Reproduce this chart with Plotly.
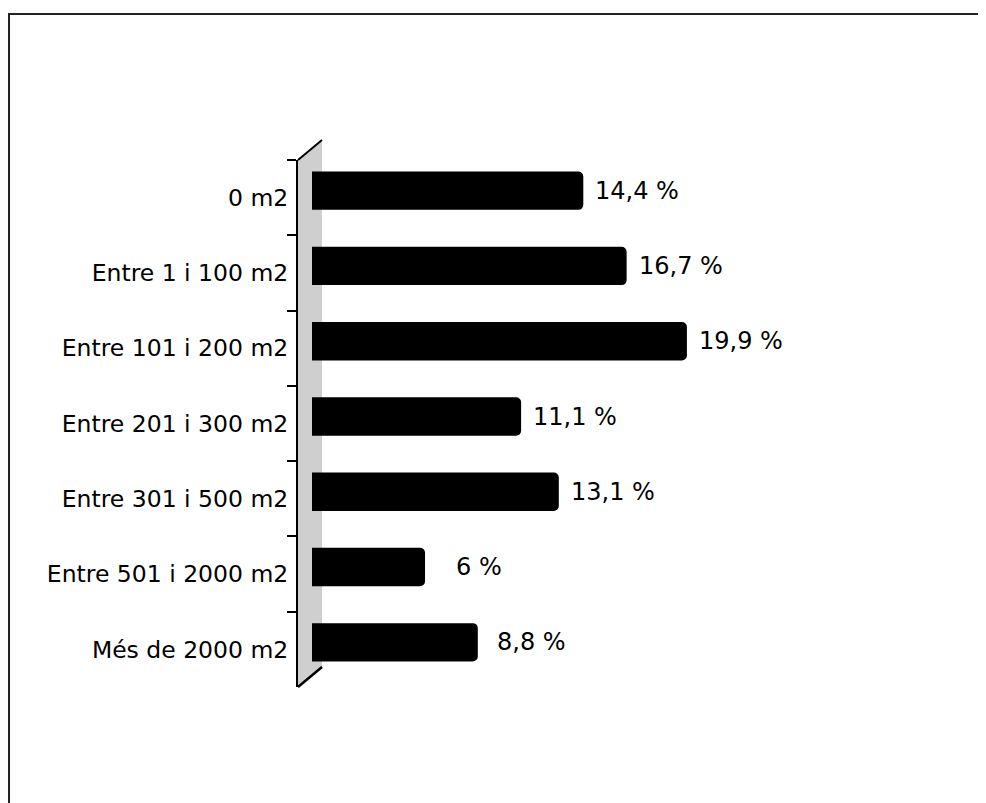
import plotly.graph_objects as go

categories = ["0 m2", "Entre 1 i 100 m2", "Entre 101 i 200 m2", "Entre 201 i 300 m2",
              "Entre 301 i 500 m2", "Entre 501 i 2000 m2", "Més de 2000 m2"]
values = [14.4, 16.7, 19.9, 11.1, 13.1, 6.0, 8.8]
value_labels = [f"{v:g}".replace(".", ",") + " %" for v in values]

W, H = 986, 803
OFF = 8  # page body margin
L, R, T, B = 298 - OFF, 900 - OFF, 160 - OFF, 687 - OFF  # plot area in figure pixels


def px(x):
    return (x - OFF - L) / (R - L)


def py(y):
    return (B - (y - OFF)) / (B - T)


FONT = "DejaVu Sans, Verdana, sans-serif"
shift = 0.093
zero_px = 312 - OFF
scale = 18.84

fig = go.Figure()
# invisible trace carrying the category axis with labels
fig.add_trace(go.Scatter(x=values, y=categories, mode="none", hoverinfo="skip", showlegend=False))
fig.add_trace(go.Bar(
    x=values, y=categories, orientation="h", yaxis="y2",
    marker=dict(color="black", line=dict(width=0), cornerradius=5),
    width=0.51, hoverinfo="x+y", showlegend=False,
))

for v, c, t in zip(values, categories, value_labels):
    fig.add_annotation(x=v, y=c, xref="x", yref="y2", text=t, showarrow=False,
                       xanchor="center", xshift=54, font=dict(family=FONT, size=24, color="black"))

shapes = [
    # side wall
    dict(type="path", xref="paper", yref="paper", layer="below",
         path=f"M 0 1 L {px(322)} {py(140)} L {px(322)} {py(667)} L 0 0 Z",
         fillcolor="#cfcfcf", line=dict(width=0)),
    dict(type="line", xref="paper", yref="paper", x0=0, y0=1, x1=px(322), y1=py(140),
         line=dict(color="black", width=2)),
    dict(type="line", xref="paper", yref="paper", x0=0, y0=0, x1=px(322), y1=py(667),
         line=dict(color="black", width=2.5)),
    # outer frame
    dict(type="rect", xref="paper", yref="paper", x0=px(9), y0=py(14), x1=px(1100), y1=py(900),
         line=dict(color="#222", width=2), fillcolor="rgba(0,0,0,0)", layer="below"),
]

fig.update_layout(
    width=W, height=H,
    margin=dict(l=L, r=W - R, t=T, b=H - B),
    paper_bgcolor="white", plot_bgcolor="rgba(0,0,0,0)",
    shapes=shapes,
    xaxis=dict(range=[(L - zero_px) / scale, (R - zero_px) / scale], showgrid=False, zeroline=False,
               showticklabels=False, ticks="", showline=False),
    yaxis=dict(type="category", categoryorder="array", categoryarray=categories,
               range=[6.5, -0.5], tickson="boundaries", ticks="outside", ticklen=9,
               tickwidth=2, tickcolor="black", showline=True, linecolor="black", linewidth=2,
               showgrid=False, zeroline=False, ticklabelstandoff=3,
               tickfont=dict(family=FONT, size=23.5, color="black")),
    yaxis2=dict(type="category", categoryorder="array", categoryarray=categories,
                range=[6.5 + shift, -0.5 + shift], overlaying="y", visible=False,
                showgrid=False),
)

fig.write_html("out.html")
